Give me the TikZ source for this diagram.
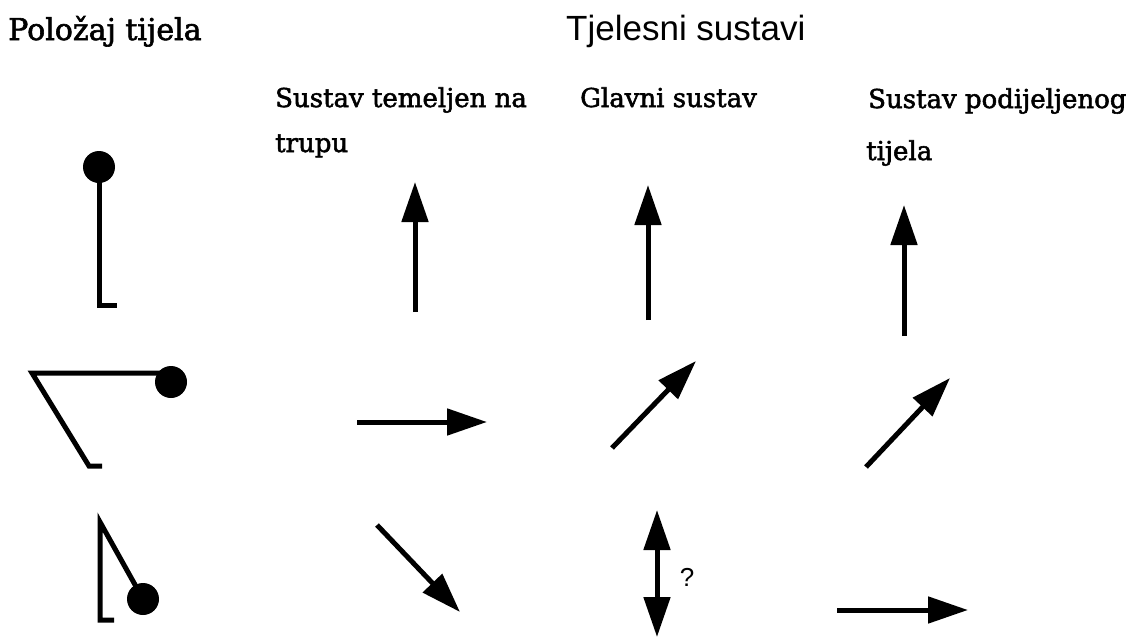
\documentclass[tikz,border=0pt]{standalone}
\usepackage{fontspec}
\setmainfont[FakeBold=2]{DejaVu Serif}
\newfontfamily\sansf{Liberation Sans}
\usetikzlibrary{arrows.meta}
\begin{document}
\begin{tikzpicture}[x=1pt,y=-1pt,
  arr/.style={line width=5pt,-{Triangle[length=40pt,width=26pt]}},
  darr/.style={line width=5pt,{Triangle[length=40pt,width=26pt]}-{Triangle[length=40pt,width=26pt]}},
  limb/.style={line width=5pt,line join=miter},
  ball/.style={circle,fill=black,inner sep=0pt,minimum size=32pt},
  lbl/.style={anchor=base west,inner sep=0pt,font=\fontsize{26}{30}\selectfont},
  ttl/.style={anchor=base west,inner sep=0pt,font=\fontsize{30}{34}\selectfont}]
\useasboundingbox (0,0) rectangle (1137,637);

% titles
\node[ttl] (t1) at (8,40) {Položaj tijela};
\node[anchor=base west,inner sep=0pt,font=\sansf\fontsize{35}{40}\selectfont] (t2) at (566,40) {Tjelesni sustavi};
\node[lbl] (c1a) at (275,107) {Sustav temeljen na};
\node[lbl] (c1b) at (275,152) {trupu};
\node[lbl] (c2a) at (580,107) {Glavni sustav};
\node[lbl] (c3a) at (868,108) {Sustav podijeljenog};
\node[lbl] (c3b) at (866,160) {tijela};

% body positions
\coordinate (h1) at (99,305);
\coordinate (f1) at (117,305);
\node[ball] (b1) at (99,167) {};
\draw[limb] (b1.center) -- (h1) -- (f1);

\coordinate (n2) at (32,373);
\coordinate (h2) at (89,466);
\coordinate (f2) at (102,466);
\draw[limb] (171,373) -- (n2) -- (h2) -- (f2);
\node[ball] (b2) at (171,382) {};

\coordinate (n3) at (100,522);
\coordinate (h3) at (100,620);
\coordinate (f3) at (114,620);
\draw[limb] (143,599) -- (n3) -- (h3) -- (f3);
\node[ball] (b3) at (143,599) {};

% trunk-based system
\coordinate (a1s) at (415,312); \coordinate (a1e) at (415,182);
\coordinate (a2s) at (357,422); \coordinate (a2e) at (487,422);
\coordinate (a3s) at (377,525); \coordinate (a3e) at (460,612);
\draw[arr] (a1s) -- (a1e);
\draw[arr] (a2s) -- (a2e);
\draw[arr] (a3s) -- (a3e);

% main system
\coordinate (g1s) at (648,320); \coordinate (g1e) at (648,185);
\coordinate (g2s) at (612,448); \coordinate (g2e) at (696,361);
\coordinate (g3s) at (657,510); \coordinate (g3e) at (657,637);
\draw[arr] (g1s) -- (g1e);
\draw[arr] (g2s) -- (g2e);
\draw[darr] (g3s) -- (g3e);
\node[font=\sansf\fontsize{26}{28}\selectfont,inner sep=0pt] (q) at (687,577) {?};

% split body system
\coordinate (s1s) at (904,336); \coordinate (s1e) at (904,205);
\coordinate (s2s) at (866,467); \coordinate (s2e) at (950,378);
\coordinate (s3s) at (837,610); \coordinate (s3e) at (968,610);
\draw[arr] (s1s) -- (s1e);
\draw[arr] (s2s) -- (s2e);
\draw[arr] (s3s) -- (s3e);
\end{tikzpicture}
\end{document}
